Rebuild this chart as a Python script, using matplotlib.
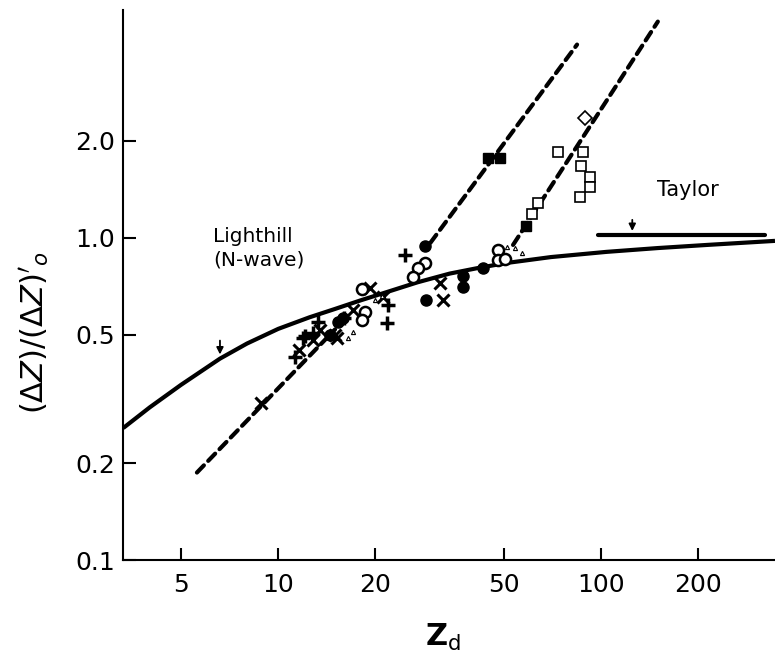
import matplotlib
matplotlib.use("Agg")
import matplotlib.pyplot as plt
from matplotlib.ticker import FixedLocator, NullLocator

# Lighthill (N-wave) theory curve
lighthill_x = [3.31, 4.0, 5.0, 6.6, 8.0, 10.0, 12.5, 15, 18, 22, 27, 34, 42, 51, 70, 104, 150, 213, 346]
lighthill_y = [0.257, 0.298, 0.350, 0.422, 0.470, 0.522, 0.567, 0.602, 0.640, 0.682, 0.728,
               0.775, 0.808, 0.836, 0.872, 0.905, 0.930, 0.951, 0.979]

# Taylor limit
taylor_x = [97.7, 322]
taylor_y = [1.02, 1.02]

# dashed trend lines
dash_a_x = [5.6, 15.0]
dash_a_y = [0.187, 0.52]
dash_b_x = [29.6, 84.3]
dash_b_y = [0.965, 3.98]
dash_c_x = [53.4, 150]
dash_c_y = [0.951, 4.69]

# experimental points
plus_x = [11.3, 11.9, 12.1, 12.8, 13.3, 16.0, 21.75, 21.9, 24.7]
plus_y = [0.427, 0.489, 0.496, 0.507, 0.548, 0.564, 0.545, 0.619, 0.886]
cross_x = [8.86, 11.6, 12.8, 13.5, 15.0, 15.2, 17.0, 19.3, 21.1, 31.7, 32.4]
cross_y = [0.307, 0.449, 0.482, 0.518, 0.500, 0.489, 0.598, 0.700, 0.656, 0.725, 0.642]
dot_x = [14.5, 15.3, 15.9, 28.5, 28.7, 37.3, 37.3, 43.0]
dot_y = [0.500, 0.548, 0.564, 0.944, 0.642, 0.762, 0.705, 0.807]
ring_x = [18.2, 18.6, 18.2, 28.5, 27.1, 26.2, 48.0, 48.0, 50.4]
ring_y = [0.695, 0.589, 0.556, 0.836, 0.807, 0.756, 0.918, 0.855, 0.861]
tri_x = [17.1, 16.5, 20.0, 20.9, 51.2, 54.2, 56.9]
tri_y = [0.511, 0.49, 0.642, 0.66, 0.938, 0.931, 0.898]
fsq_x = [44.7, 48.7, 58.6]
fsq_y = [1.77, 1.77, 1.09]
osq_x = [61.1, 63.8, 73.6, 88.0, 86.7, 92.5, 92.5, 86.1]
osq_y = [1.19, 1.28, 1.85, 1.85, 1.67, 1.54, 1.44, 1.34]
dia_x = [89.2]
dia_y = [2.36]

xticks = [5, 10, 20, 50, 100, 200]
xticklabels = ["5", "10", "20", "50", "100", "200"]
yticks = [0.1, 0.2, 0.5, 1.0, 2.0]
yticklabels = ["0.1", "0.2", "0.5", "1.0", "2.0"]

fig = plt.figure(figsize=(7.75, 6.59), dpi=100)
ax = fig.add_axes([0.159, 0.150, 0.841, 0.835])
ax.set_xscale("log")
ax.set_yscale("log")

# curves
ax.plot(lighthill_x, lighthill_y, color="black", linewidth=3, solid_capstyle="butt",
        solid_joinstyle="round")
ax.plot(taylor_x, taylor_y, color="black", linewidth=3, solid_capstyle="round")
for xs, ys in [(dash_a_x, dash_a_y), (dash_b_x, dash_b_y), (dash_c_x, dash_c_y)]:
    ax.plot(xs, ys, color="black", linewidth=3, dashes=(2.4, 1.5), dash_capstyle="round")

# symbols
ax.plot(plus_x, plus_y, "+", color="black", markersize=10, markeredgewidth=2.5, linestyle="none")
ax.plot(cross_x, cross_y, "x", color="black", markersize=8, markeredgewidth=2.2, linestyle="none")
ax.plot(dot_x, dot_y, "o", color="black", markersize=8, linestyle="none")
ax.plot(ring_x, ring_y, "o", markerfacecolor="white", markeredgecolor="black",
        markersize=8, markeredgewidth=1.8, linestyle="none")
ax.plot(tri_x, tri_y, "^", markerfacecolor="white", markeredgecolor="black",
        markersize=3, markeredgewidth=0.8, linestyle="none")
ax.plot(fsq_x, fsq_y, "s", color="black", markersize=7, linestyle="none")
ax.plot(osq_x, osq_y, "s", markerfacecolor="white", markeredgecolor="black",
        markersize=7, markeredgewidth=1.2, linestyle="none")
ax.plot(dia_x, dia_y, "D", markerfacecolor="white", markeredgecolor="black",
        markersize=7, markeredgewidth=1.2, linestyle="none")

# small arrows marking the theory curves
ax.annotate("", xy=(lighthill_x[3], lighthill_y[3] * 1.01), xytext=(0, 14), textcoords="offset points",
            arrowprops=dict(arrowstyle="-|>", color="black", lw=1.3, mutation_scale=10))
ax.annotate("", xy=(125, taylor_y[0] * 1.01), xytext=(0, 12), textcoords="offset points",
            arrowprops=dict(arrowstyle="-|>", color="black", lw=1.3, mutation_scale=10))

ax.text(6.3, 0.93, "Lighthill\n(N-wave)", fontsize=14.5, ha="left", va="center", linespacing=1.3)
ax.text(149, 1.41, "Taylor", fontsize=15, ha="left", va="center")

ax.set_xlim(3.31, 346)
ax.set_ylim(0.1, 5.1)
ax.spines["top"].set_visible(False)
ax.spines["right"].set_visible(False)
ax.spines["left"].set_linewidth(1.5)
ax.spines["bottom"].set_linewidth(1.5)

ax.xaxis.set_major_locator(FixedLocator(xticks))
ax.xaxis.set_minor_locator(NullLocator())
ax.set_xticklabels(xticklabels)
ax.yaxis.set_major_locator(FixedLocator(yticks))
ax.yaxis.set_minor_locator(NullLocator())
ax.set_yticklabels(yticklabels)
ax.tick_params(direction="in", length=9, width=1.5, labelsize=18)
ax.tick_params(axis="x", pad=9)
ax.tick_params(axis="y", pad=6)

fig.text(0.572, 0.033, r"$\mathbf{Z}_{\mathrm{d}}$", fontsize=22, ha="center", va="center")
fig.text(0.045, 0.496, r"$(\Delta Z)/(\Delta Z)'_{o}$", fontsize=22, rotation=90,
         ha="center", va="center")

fig.savefig("out.png", dpi=100)
